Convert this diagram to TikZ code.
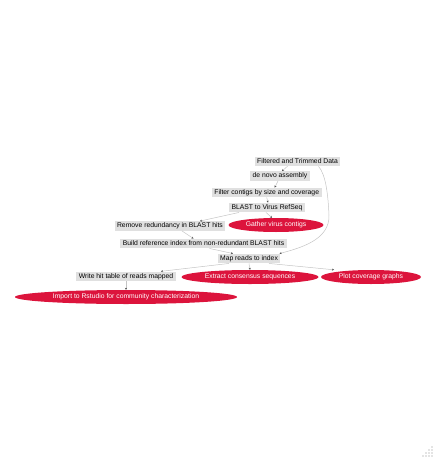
\documentclass[tikz,border=0pt]{standalone}
\usepackage{fontspec}
\setmainfont{Liberation Sans}
\usetikzlibrary{shapes.geometric,arrows.meta}
\definecolor{boxgray}{HTML}{E0E0E0}
\definecolor{crim}{HTML}{DC143C}
\definecolor{edgegray}{HTML}{C4C4C4}
\begin{document}
\begin{tikzpicture}[x=1pt,y=-1pt,
  every node/.style={font=\fontsize{6.8}{7.5}\selectfont},
  box/.style={rectangle,fill=boxgray,inner xsep=2.5pt,inner ysep=1pt,minimum height=9.5pt},
  oval/.style={ellipse,fill=crim,text=white,inner xsep=1pt,inner ysep=1pt,minimum height=14pt},
  edge/.style={draw=edgegray,line width=0.5pt,-{Stealth[length=2pt,width=2pt,color=black!70]}}]
\useasboundingbox (0,0) rectangle (434,458);
\node[box] (ftd) at (297.5,161.3) {Filtered and Trimmed Data};
\node[box] (dna) at (280,176) {de novo assembly};
\node[box] (fc) at (266.7,192.5) {Filter contigs by size and coverage};
\node[box] (bl) at (267,207.5) {BLAST to Virus RefSeq};
\node[oval,minimum width=95pt] (gv) at (276,225) {Gather virus contigs};
\node[box] (rr) at (170,226) {Remove redundancy in BLAST hits};
\node[box] (bri) at (203.5,243.5) {Build reference index from non-redundant BLAST hits};
\node[box] (mr) at (249,258.5) {Map reads to index};
\node[box] (wh) at (126,276.3) {Write hit table of reads mapped};
\node[oval,minimum width=137pt] (ec) at (250,277) {Extract consensus sequences};
\node[oval,minimum width=100pt] (pc) at (371,277) {Plot coverage graphs};
\node[oval,minimum width=222pt] (ir) at (126,297) {Import to Rstudio for community characterization};
\draw[edge] ([xshift=-10pt]ftd.south) -- ([xshift=2pt]dna.north);
\draw[edge] ([xshift=-2pt]dna.south) -- ([xshift=8pt]fc.north);
\draw[edge] (fc.south) -- ([xshift=1pt]bl.north);
\draw[edge] ([xshift=-1pt]bl.south) -- ([xshift=-4pt]gv.north);
\draw[edge] ([xshift=-28pt]bl.south) -- ([xshift=30pt]rr.north);
\draw[edge] ([xshift=12pt]rr.south) -- ([xshift=-10pt]bri.north);
\draw[edge] ([xshift=6pt]bri.south) -- ([xshift=-16pt]mr.north);
\coordinate (c1) at (329,215);
\draw[edge] ([xshift=-22pt]ftd.south east) .. controls (326,175) and (328,195) .. (c1) .. controls (330,240) and (300,248) .. ([xshift=-1pt]mr.north east);
\draw[edge] ([xshift=-20pt]mr.south) -- ([xshift=-15pt]wh.north east);
\draw[edge] (mr.south) -- (ec.north);
\draw[edge] ([xshift=20pt]mr.south) -- ([xshift=-37pt]pc.north);
\draw[edge] (wh.south) -- (ir.north);
\foreach \i in {0,...,3}{\foreach \j in {0,...,\i}{
  \fill[black!45] ({432-3*\j},{456-3*(3-\i)}) circle (0.6);}}
\end{tikzpicture}
\end{document}
